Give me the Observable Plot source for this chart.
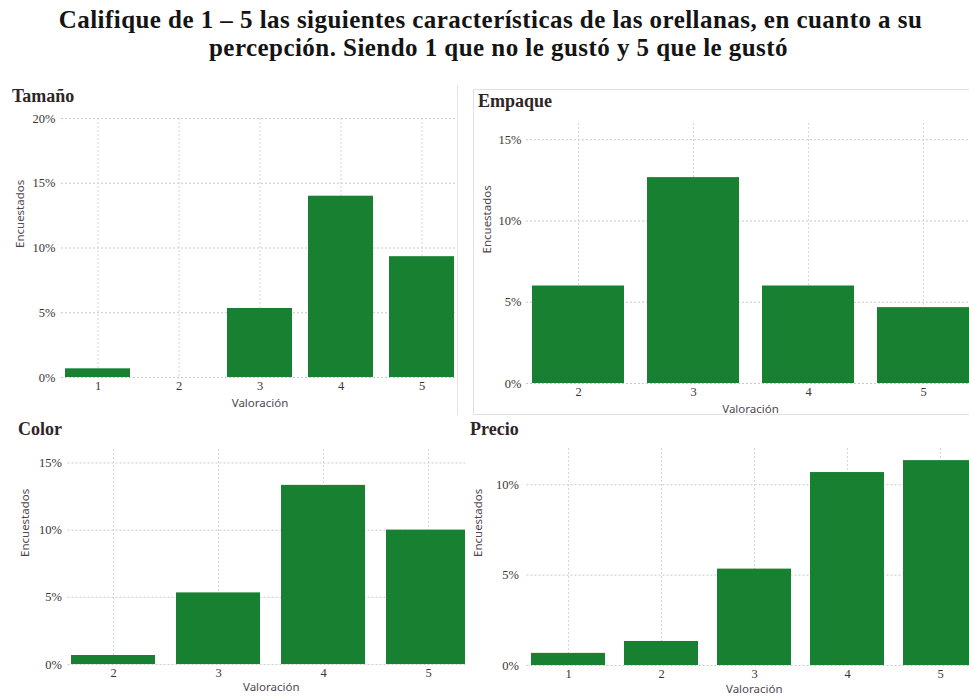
<!DOCTYPE html>
<html lang="es">
<head>
<meta charset="utf-8">
<script src="https://cdn.jsdelivr.net/npm/d3@7"></script>
<script src="https://cdn.jsdelivr.net/npm/@observablehq/plot@0.6"></script>
<style>
  html, body { margin: 0; padding: 0; background: #fff; }
  body { position: relative; width: 969px; height: 697px; overflow: hidden; }
  .tline {
    position: absolute; left: 6px; width: 969px; white-space: nowrap;
    text-align: center; font: bold 25px/26px "Liberation Serif", "Times New Roman", serif;
    letter-spacing: 0.45px; color: #141414;
  }
  .ptitle {
    position: absolute; font: bold 18px/18px "Liberation Serif", "Times New Roman", serif;
    color: #2e2626;
  }
  .clip { position: absolute; overflow: hidden; }
  .clip svg { position: absolute; }
  .rule { position: absolute; background: #e4e4e4; }
  #box { position: absolute; left: 473px; top: 89px; width: 520px; height: 326px;
         border: 1px solid #e2e2e2; box-sizing: border-box; }
</style>
</head>
<body>
<div class="tline" style="top:7px">Califique de 1 – 5 las siguientes características de las orellanas, en cuanto a su</div>
<div class="tline" style="top:35px; left:14px">percepción. Siendo 1 que no le gustó y 5 que le gustó</div>

<script>
// Share of respondents (%) giving each rating, per attribute
const ratingsAll = [1, 2, 3, 4, 5];
const ratingsTwoToFive = [2, 3, 4, 5];

const tamanoValues = [0.67, 0, 5.33, 14.0, 9.33];
const empaqueValues = [6.0, 12.67, 6.0, 4.67];
const colorValues = [0.67, 5.33, 13.33, 10.0];
const precioValues = [0.67, 1.33, 5.33, 10.67, 11.33];

// Percent ticks on each value axis
const tamanoTicks = [0, 5, 10, 15, 20];
const empaqueTicks = [0, 5, 10, 15];
const colorTicks = [0, 5, 10, 15];
const precioTicks = [0, 5, 10];

const panelTitles = ["Tamaño", "Empaque", "Color", "Precio"];
const xLabel = "Valoración";
const yLabel = "Encuestados";

const GREEN = "#178131";
const axisLabelStyle = {fontFamily: '"Noto Sans", "Open Sans", sans-serif', fontSize: 11.5, fill: "#4f4652"};

function barPanel(cfg) {
  const rows = cfg.ratings.map((r, i) => ({rating: r, pct: cfg.values[i]}));
  return Plot.plot({
    width: cfg.width,
    height: cfg.height,
    marginLeft: cfg.marginLeft,
    marginRight: 0,
    marginTop: cfg.marginTop,
    marginBottom: cfg.marginBottom,
    style: {fontFamily: '"Liberation Serif", "Times New Roman", serif', color: "#3a3434",
            background: "transparent", maxWidth: "none"},
    x: {type: "band", domain: cfg.ratings, paddingInner: 0.2, paddingOuter: cfg.paddingOuter, label: null},
    y: {domain: [0, cfg.yMax], label: null},
    marks: [
      Plot.gridY(cfg.ticks, {stroke: "#c9c9c9", strokeOpacity: 1, strokeDasharray: "2,2"}),
      Plot.gridX(cfg.ratings, {stroke: "#d6d6d6", strokeOpacity: 1, strokeDasharray: "2,2"}),
      Plot.barY(rows, {x: "rating", y: "pct", fill: GREEN}),
      Plot.axisY(cfg.ticks, {tickSize: 0, tickPadding: cfg.tickPadding, tickFormat: d => d + "%",
                             fontSize: 12.5, label: null}),
      Plot.axisX(cfg.ratings, {tickSize: 0, tickPadding: 4, fontSize: 12.5, label: null}),
      Plot.text([yLabel], {text: d => d, frameAnchor: "left", rotate: -90, dx: cfg.yLabelDx, ...axisLabelStyle}),
      Plot.text([xLabel], {text: d => d, frameAnchor: "bottom", dy: cfg.xLabelDy, ...axisLabelStyle})
    ]
  });
}

function place(svg, clip, svgLeft, svgTop) {
  const div = document.createElement("div");
  div.className = "clip";
  Object.assign(div.style, {left: clip.x + "px", top: clip.y + "px", width: clip.w + "px", height: clip.h + "px"});
  svg.style.left = (svgLeft - clip.x) + "px";
  svg.style.top = (svgTop - clip.y) + "px";
  div.appendChild(svg);
  document.body.appendChild(div);
}

function addTitle(text, left, top) {
  const d = document.createElement("div");
  d.className = "ptitle";
  d.textContent = text;
  d.style.left = left + "px";
  d.style.top = top + "px";
  document.body.appendChild(d);
}

// Panel frames
const sep = document.createElement("div");
sep.className = "rule";
Object.assign(sep.style, {left: "457px", top: "85px", width: "1px", height: "330px"});
document.body.appendChild(sep);
const box = document.createElement("div");
box.id = "box";
document.body.appendChild(box);

// Tamaño
place(barPanel({ratings: ratingsAll, values: tamanoValues, ticks: tamanoTicks, yMax: 20,
  width: 458, height: 305, marginLeft: 61, marginTop: 8, marginBottom: 38,
  paddingOuter: 0.05, tickPadding: 6, yLabelDx: -41, xLabelDy: 29}),
  {x: 0, y: 85, w: 457, h: 330}, 0, 110);

// Empaque
place(barPanel({ratings: ratingsTwoToFive, values: empaqueValues, ticks: empaqueTicks, yMax: 16,
  width: 501, height: 304, marginLeft: 53, marginTop: 13, marginBottom: 31,
  paddingOuter: 0.035, tickPadding: 5, yLabelDx: -39, xLabelDy: 29}),
  {x: 474, y: 90, w: 495, h: 324}, 473, 110);

// Color
place(barPanel({ratings: ratingsTwoToFive, values: colorValues, ticks: colorTicks, yMax: 16,
  width: 474, height: 257, marginLeft: 67.5, marginTop: 9, marginBottom: 33,
  paddingOuter: 0.03, tickPadding: 6, yLabelDx: -42.5, xLabelDy: 26}),
  {x: 0, y: 440, w: 465, h: 257}, 0, 440);

// Precio
place(barPanel({ratings: ratingsAll, values: precioValues, ticks: precioTicks, yMax: 12,
  width: 516, height: 257, marginLeft: 61.5, marginTop: 8, marginBottom: 32,
  paddingOuter: 0.02, tickPadding: 8, yLabelDx: -48.5, xLabelDy: 27}),
  {x: 465, y: 440, w: 504, h: 257}, 465, 440);

addTitle(panelTitles[0], 12, 87);
addTitle(panelTitles[1], 478, 92);
addTitle(panelTitles[2], 18, 420);
addTitle(panelTitles[3], 470, 420);
</script>
</body>
</html>
